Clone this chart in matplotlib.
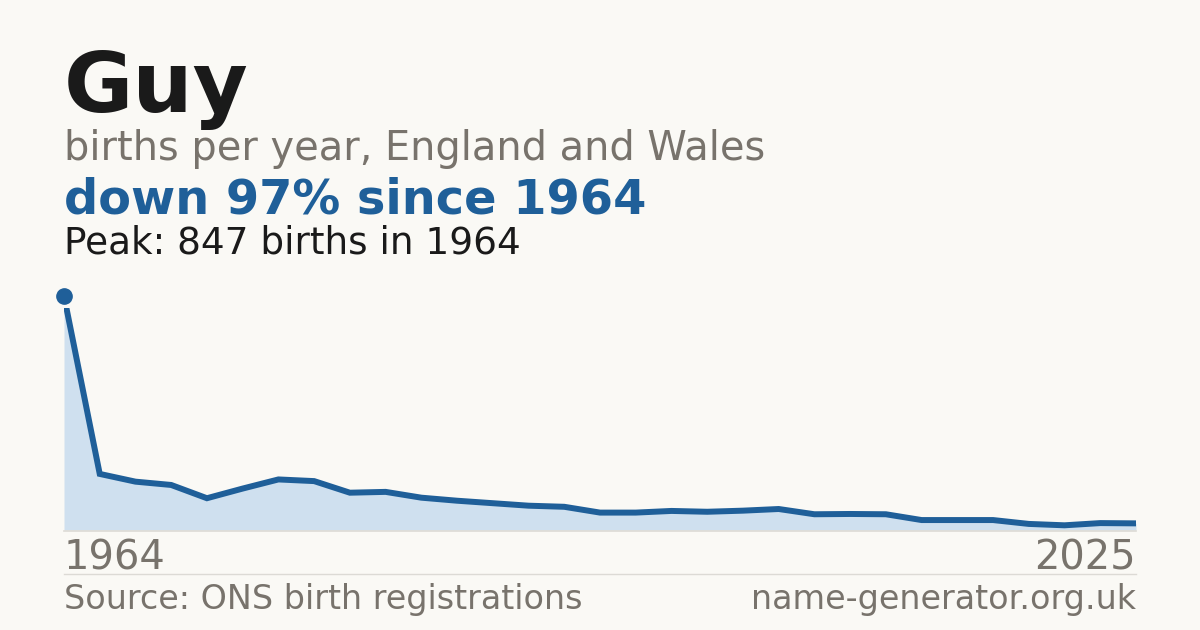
import numpy as np
import matplotlib
matplotlib.use("Agg")
import matplotlib.pyplot as plt

# births per year for "Guy" (1964, then 1996-2025)
years = [1964] + list(range(1996, 2026))
births = [847, 203, 175, 163, 115, 150, 183, 177, 135, 138,
          117, 106, 97, 88, 84, 63, 63, 69, 66, 70,
          76, 57, 58, 57, 36, 36, 36, 22, 17, 25, 24]

title = "Guy"
subtitle = "births per year, England and Wales"
headline = "down 97% since 1964"
peak_text = "Peak: 847 births in 1964"
source_text = "Source: ONS birth registrations"
site_text = "name-generator.org.uk"

BG = "#faf9f5"
BLUE = "#1f5f99"
FILL = "#cfe0ef"
GREY = "#78736c"
DARK = "#1a1a1a"
RULE = "#dcdad5"

W, H = 1200, 630


def fy(px):
    # pixel row from top -> figure fraction
    return 1 - px / H


def main():
    fig = plt.figure(figsize=(12, 6.3), dpi=100, facecolor=BG)

    # plot area: x 64..1136, y 308..530 (peak point sits just above at 296)
    ax = fig.add_axes([64 / W, fy(530), 1072 / W, 222 / H])
    ax.set_facecolor(BG)
    x = np.arange(len(births))
    ytop = 847 * 222 / 234
    ax.fill_between(x, births, 0, color=FILL, lw=0)
    ax.plot(x, births, color=BLUE, lw=4.3, solid_joinstyle="miter")
    ax.plot([x[0]], [births[0]], "o", ms=11, color=BLUE, clip_on=False, zorder=5)
    ax.set_xlim(0, len(births) - 1)
    ax.set_ylim(0, ytop)
    ax.axis("off")

    # baseline and separator
    fig.add_artist(plt.Line2D([64 / W, 1136 / W], [fy(530.5), fy(530.5)],
                              color=RULE, lw=1.2))
    fig.add_artist(plt.Line2D([64 / W, 1136 / W], [fy(574), fy(574)],
                              color=RULE, lw=1))

    fig.text(64 / W, fy(112), title, fontsize=60.8, fontweight="bold",
             color=DARK, va="baseline", ha="left")
    fig.text(64 / W, fy(160), subtitle, fontsize=28.7, color=GREY,
             va="baseline", ha="left")
    fig.text(64 / W, fy(214), headline, fontsize=34.5, fontweight="bold",
             color=BLUE, va="baseline", ha="left")
    fig.text(64 / W, fy(254), peak_text, fontsize=26.9, color=DARK,
             va="baseline", ha="left")

    fig.text(64 / W, fy(570), str(years[0]), fontsize=28.8, color=GREY,
             va="baseline", ha="left")
    fig.text(1136 / W, fy(570), str(years[-1]), fontsize=28.8, color=GREY,
             va="baseline", ha="right")

    fig.text(64 / W, fy(609), source_text, fontsize=24, color=GREY,
             va="baseline", ha="left")
    fig.text(1136 / W, fy(609), site_text, fontsize=24, color=GREY,
             va="baseline", ha="right")

    fig.savefig("out.png", dpi=100, facecolor=BG)


if __name__ == "__main__":
    main()
